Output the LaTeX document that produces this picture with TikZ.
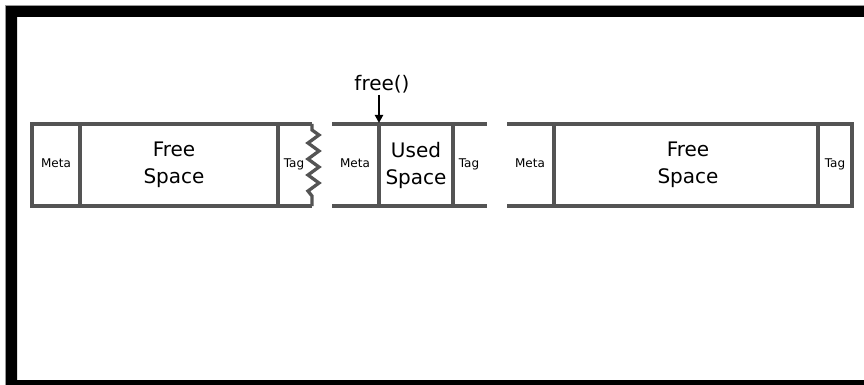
\documentclass[tikz,border=0pt]{standalone}
\usepackage{fontspec}
\setmainfont{DejaVu Sans}
\usetikzlibrary{arrows.meta}
\begin{document}
\begin{tikzpicture}[x=1pt,y=-1pt,
  blk/.style={draw=black!67,line width=3.3pt,line cap=butt},
  big/.style={inner sep=0pt,align=center,font=\fontsize{20}{27}\selectfont},
  small/.style={inner sep=0pt,anchor=base,font=\fontsize{12}{14}\selectfont},
  callarrow/.style={draw=black,line width=2.3pt,-{Triangle[length=8pt,width=8pt]}}]
\useasboundingbox (0,0) rectangle (864,385);
% frame
\fill[black,even odd rule] (6,6) rectangle (870,391) (17,17) rectangle (870,380);
\draw[black!40,line width=0.8pt] (5.5,395) -- (5.5,5.5) -- (870,5.5);
% block 1
\draw[blk] (312,124) -- (32,124) -- (32,206) -- (312,206);
\draw[blk,line join=miter] (312,124) -- (312,130) -- (319,135) -- (308,143) -- (319,151) -- (308,159)
  -- (319,167) -- (308,175) -- (319,183) -- (308,191) -- (312,196) -- (312,206);
\draw[blk] (80,124) -- (80,206);
\draw[blk] (278,124) -- (278,206);
\node[small] (m1) at (56,167.5) {Meta};
\node[big] (f1) at (174,165) {Free\\Space};
\node[small] (t1) at (294,167.5) {Tag};
% block 2
\draw[blk] (332,124) -- (487,124);
\draw[blk] (332,206) -- (487,206);
\draw[blk] (379,124) -- (379,206);
\draw[blk] (453,124) -- (453,206);
\node[small] (m2) at (355,167.5) {Meta};
\node[big] (u2) at (416,165) {Used\\Space};
\node[small] (t2) at (469,167.5) {Tag};
% block 3
\draw[blk] (507,124) -- (852,124) -- (852,206) -- (507,206);
\draw[blk] (554,124) -- (554,206);
\draw[blk] (818,124) -- (818,206);
\node[small] (m3) at (530,167.5) {Meta};
\node[big] (f3) at (688,165) {Free\\Space};
\node[small] (t3) at (835,167.5) {Tag};
% free() call
\node[inner sep=0pt,anchor=base,font=\fontsize{20}{24}\selectfont] (fr) at (382,91) {free()};
\coordinate (hit) at (379,123);
\draw[callarrow] (379,95) -- (hit);
\end{tikzpicture}
\end{document}
